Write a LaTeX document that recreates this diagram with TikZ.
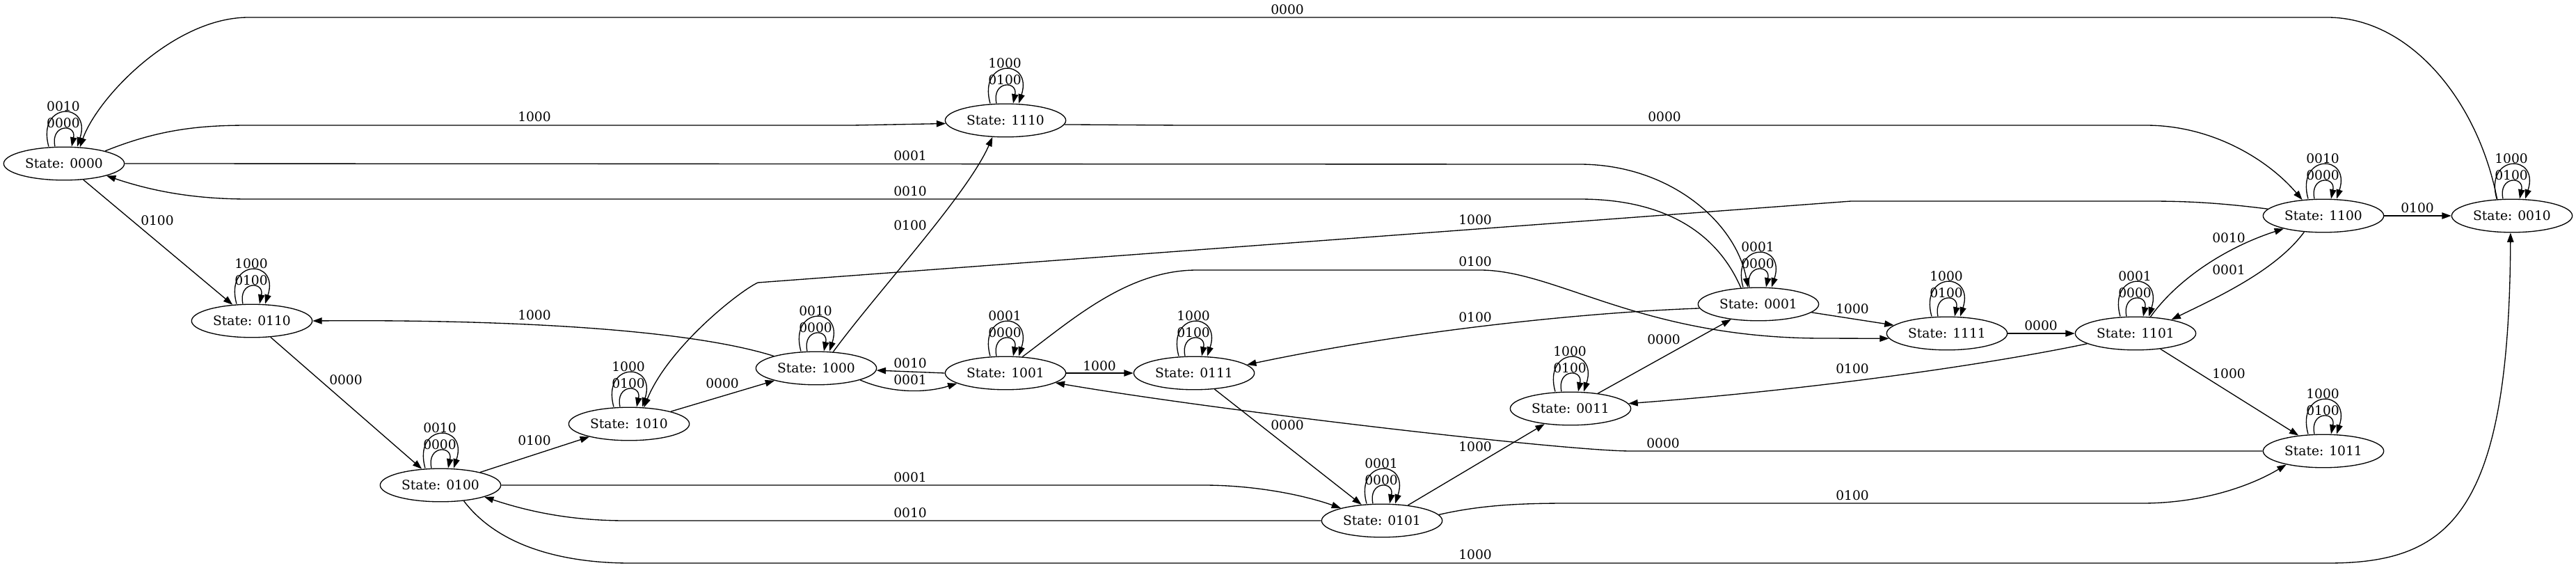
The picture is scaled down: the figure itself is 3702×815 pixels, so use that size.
\documentclass[tikz,border=0pt]{standalone}
\usepackage{fontspec}
\setmainfont{DejaVu Serif}
\usetikzlibrary{arrows.meta,shapes.geometric}

\tikzset{
  state/.style={draw,ellipse,line width=1pt,minimum width=130pt,minimum height=35.7pt,inner sep=0pt,font=\fontsize{14}{16}\selectfont},
  lbl/.style={inner sep=0pt,font=\fontsize{14}{16}\selectfont},
  edge/.style={line width=1pt,-{Triangle[length=10pt,width=7pt]}}
}

\begin{document}
\begin{tikzpicture}[x=0.75pt,y=-0.75pt]
\useasboundingbox (0,0) rectangle (3702,815);

% states
\node[state] (s0000) at (92,235) {State: 0000};
\node[state] (s0110) at (362,461) {State: 0110};
\node[state] (s0100) at (633,697) {State: 0100};
\node[state] (s1010) at (904,609) {State: 1010};
\node[state] (s1000) at (1173,529) {State: 1000};
\node[state] (s1110) at (1445,173) {State: 1110};
\node[state] (s1001) at (1445,536) {State: 1001};
\node[state] (s0111) at (1716,536) {State: 0111};
\node[state] (s0101) at (1986,748) {State: 0101};
\node[state] (s0011) at (2257,587) {State: 0011};
\node[state] (s0001) at (2527,437) {State: 0001};
\node[state] (s1111) at (2798,479) {State: 1111};
\node[state] (s1101) at (3069,479) {State: 1101};
\node[state] (s1100) at (3339,310) {State: 1100};
\node[state] (s0010) at (3610,310) {State: 0010};
\node[state] (s1011) at (3339,648) {State: 1011};

% self loops
\foreach \n/\a/\b in {s0000/0010/0000,s0110/1000/0100,s0100/0010/0000,s1010/1000/0100,
  s1000/0010/0000,s1110/1000/0100,s1001/0001/0000,s0111/1000/0100,s0101/0001/0000,
  s0011/1000/0100,s0001/0001/0000,s1111/1000/0100,s1101/0001/0000,s1100/0010/0000,
  s0010/1000/0100,s1011/1000/0100}{
  \draw[edge] ([shift={(-22,0)}]\n.north) .. controls ([shift={(-40,-65)}]\n.north) and ([shift={(40,-65)}]\n.north) .. ([shift={(19,0)}]\n.north);
  \draw[edge] ([shift={(-13,0)}]\n.north) .. controls ([shift={(-20,-33)}]\n.north) and ([shift={(18,-33)}]\n.north) .. ([shift={(11,0)}]\n.north);
  \node[lbl] (\n-a) at ([shift={(-1,-58)}]\n.north) {\a};
  \node[lbl] (\n-b) at ([shift={(-1,-34)}]\n.north) {\b};
}

% transitions
\draw[edge] (s0010.132) .. controls (3560,140) and (3460,25) .. (3345,25) -- (357,25) .. controls (250,25) and (140,140) .. (s0000.46);
\draw[edge] (s0000.17) .. controls (230,185) and (290,180) .. (357,180) -- (1225,180) -- (s1110.183);
\draw[edge] (s0000.east) -- (2270,236) .. controls (2400,236) and (2495,320) .. (s0001.122);
\draw[edge] (s0001.137) .. controls (2470,340) and (2400,286) .. (2270,286) -- (357,286) .. controls (280,286) and (220,275) .. (s0000.-16);
\draw[edge] (s0000) -- (s0110);
\draw[edge] (s0110) -- (s0100);
\draw[edge] (s0100) -- (s1010);
\draw[edge] (s1010) -- (s1000);
\draw[edge] (s1000.164) .. controls (980,470) and (700,459) .. (s0110.east);
\draw[edge] (s1000.44) .. controls (1260,420) and (1390,280) .. (s1110.232);
\draw[edge] (s1000.-15) .. controls (1280,565) and (1330,565) .. (s1001.192);
\draw[edge] (s1001.west) -- (s1000.-2);
\draw[edge] (s1001) -- (s0111);
\draw[edge] (s1001.44) .. controls (1540,460) and (1620,388) .. (1720,388) -- (2130,388) .. controls (2240,390) and (2360,486) .. (2620,486) -- (s1111.185);
\draw[edge] (s0001.184) .. controls (2250,450) and (2000,480) .. (s0111.9);
\draw[edge] (s0111) -- (s0101);
\draw[edge] (s0100.east) -- (1730,697) .. controls (1800,697) and (1870,710) .. (s0101.163);
\draw[edge] (s0101.west) -- (900,748) .. controls (820,748) and (760,735) .. (s0100.-15);
\draw[edge] (s0100.-34) .. controls (720,790) and (820,809) .. (906,809) -- (3345,809) .. controls (3520,809) and (3606,740) .. (s0010.265);
\draw[edge] (s0101) -- (s0011);
\draw[edge] (s0011) -- (s0001);
\draw[edge] (s0101.6) .. controls (2130,725) and (2190,723) .. (2253,723) -- (3078,723) .. controls (3170,723) and (3240,695) .. (s1011.200);
\draw[edge] (s1011.west) -- (2344,648) .. controls (2250,648) and (1750,590) .. (s1001.-11);
\draw[edge] (s1100.173) .. controls (3180,290) and (3130,289) .. (3089,289) -- (2660,289) -- (1089,406) .. controls (1060,420) and (960,500) .. (s1010.48);
\draw[edge] (s1110.-4) -- (1700,180) -- (3084,180) .. controls (3180,180) and (3260,230) .. (s1100.143);
\draw[edge] (s1100) -- (s0010);
\draw[edge] (s0001) -- (s1111);
\draw[edge] (s1111) -- (s1101);
\draw[edge] (s1101.192) .. controls (2850,525) and (2600,560) .. (s0011.5);
\draw[edge] (s1101) -- (s1011);
\draw[edge] (s1101.48) .. controls (3130,400) and (3200,355) .. (s1100.198);
\draw[edge] (s1100.220) .. controls (3270,390) and (3180,430) .. (s1101.21);

% transition labels
\node[lbl] (lb1) at (1850,14) {0000};
\node[lbl] (lb2) at (768,168) {1000};
\node[lbl] (lb3) at (1308,224) {0001};
\node[lbl] (lb4) at (1308,275) {0010};
\node[lbl] (lb5) at (226,317) {0100};
\node[lbl] (lb6) at (497,546) {0000};
\node[lbl] (lb7) at (768,633) {0100};
\node[lbl] (lb8) at (1038,551) {0000};
\node[lbl] (lb9) at (768,453) {1000};
\node[lbl] (lb10) at (1308,324) {0100};
\node[lbl] (lb11) at (1308,546) {0001};
\node[lbl] (lb12) at (1308,522) {0010};
\node[lbl] (lb13) at (1580,526) {1000};
\node[lbl] (lb14) at (2120,376) {0100};
\node[lbl] (lb15) at (2120,456) {0100};
\node[lbl] (lb16) at (1850,611) {0000};
\node[lbl] (lb17) at (1308,686) {0001};
\node[lbl] (lb18) at (1308,737) {0010};
\node[lbl] (lb19) at (2120,797) {1000};
\node[lbl] (lb20) at (2120,642) {1000};
\node[lbl] (lb21) at (2391,488) {0000};
\node[lbl] (lb22) at (2662,712) {0100};
\node[lbl] (lb23) at (2390,637) {0000};
\node[lbl] (lb24) at (2120,316) {1000};
\node[lbl] (lb25) at (2392,168) {0000};
\node[lbl] (lb26) at (3474,299) {0100};
\node[lbl] (lb27) at (2662,444) {1000};
\node[lbl] (lb28) at (2933,468) {0000};
\node[lbl] (lb29) at (2662,530) {0100};
\node[lbl] (lb30) at (3203,537) {1000};
\node[lbl] (lb31) at (3203,342) {0010};
\node[lbl] (lb32) at (3203,388) {0001};
\end{tikzpicture}
\end{document}
